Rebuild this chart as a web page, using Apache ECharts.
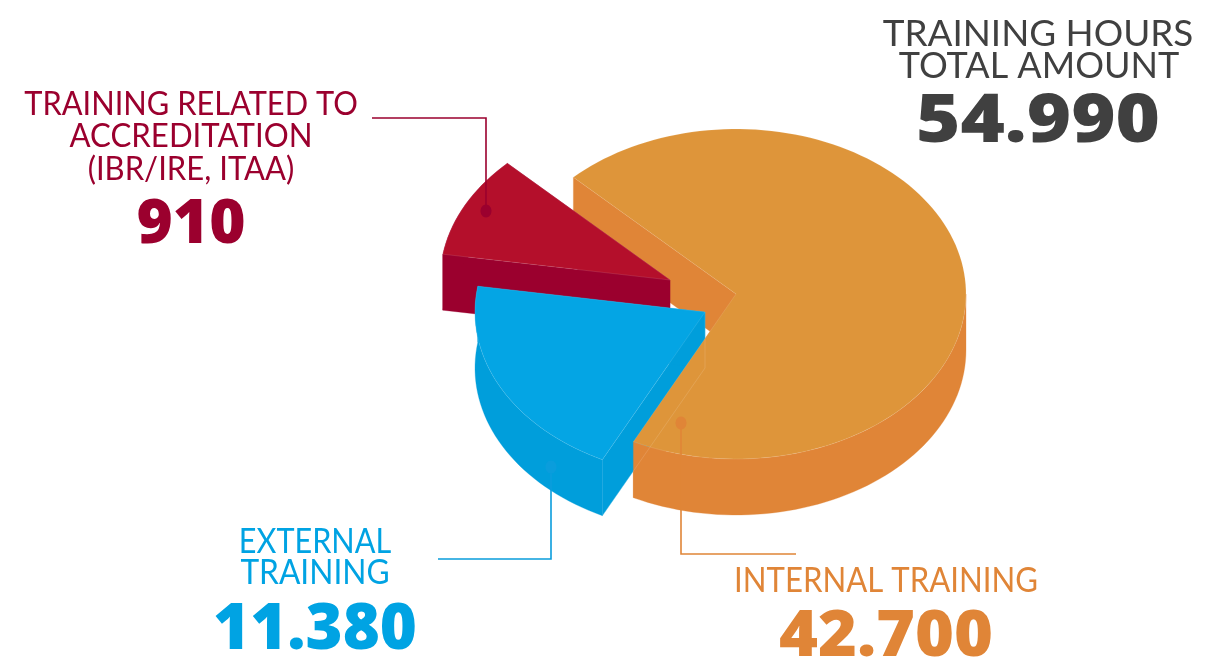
<!DOCTYPE html>
<html>
<head>
<meta charset="utf-8">
<style>
html, body { margin: 0; padding: 0; background: #fff; }
#main { width: 1219px; height: 668px; }
</style>
</head>
<body>
<div id="main"></div>
<script src="https://cdn.jsdelivr.net/npm/echarts@6/dist/echarts.min.js"></script>
<script>
// values printed on the picture
const categories = ['INTERNAL TRAINING', 'EXTERNAL TRAINING', 'TRAINING RELATED TO ACCREDITATION (IBR/IRE, ITAA)']
const hours = [42700, 11380, 910]
const totalHours = 54990
// the drawn slices are not to scale in the original, so these are read off the picture (degrees)
const drawnSweep = [251.5, 72.5, 36]
const firstSliceStart = 225

// look of the pie
const pie = { rx: 230, ry: 165, depth: 56 }
const apex = [[736, 294], [705, 312], [670, 280]]
const topColors = ['#DE953A', '#04A5E4', '#B40F2B']
const wallColors = ['#E08537', '#009EDB', '#9B002E']
const textColors = ['#E08537', '#00A3E3', '#9B002E']
const edge = 'rgba(255,255,255,0.16)'
// draw order, back to front
const zFace = [1, 7, 3]
const zTop = [9, 10, 4]
const zBand = [8, 7, 3]

const bodyFont = 'Lato'
const numberFont = '"Open Sans"'

function fmt(n) {
  return String(n).replace(/\B(?=(\d{3})+$)/g, '.')
}

function arc(c, from, sweep, dy) {
  const pts = []
  const n = Math.max(2, Math.ceil(Math.abs(sweep) / 2))
  for (let i = 0; i <= n; i++) {
    const t = ((from + (sweep * i) / n) * Math.PI) / 180
    pts.push([c[0] + pie.rx * Math.cos(t), c[1] + dy + pie.ry * Math.sin(t)])
  }
  return pts
}

function poly(points, fill, z2, stroke) {
  return {
    type: 'polygon',
    z2: z2,
    shape: { points: points },
    style: { fill: fill, stroke: stroke || fill, lineWidth: stroke ? 0.7 : 0.3 },
  }
}

function renderSlice(params, api) {
  const i = api.value(0)
  const start = api.value(1)
  const sweep = api.value(2)
  const end = start + sweep
  const c = apex[i]
  const d = pie.depth
  const children = []

  // radial faces
  ;[start, end].forEach(function (a) {
    const rim = arc(c, a, 0, 0)[0]
    children.push(poly([c, rim, [rim[0], rim[1] + d], [c[0], c[1] + d]], wallColors[i], zFace[i]))
  })

  // outer wall, only the part facing the viewer (0-180 deg)
  let from = start
  let to = end
  if (to > 360) from = Math.max(from, 360)
  else to = Math.min(to, 180)
  if (to > from) {
    const rimTop = arc(c, from, to - from, 0)
    const rimBottom = arc(c, from, to - from, d).reverse()
    children.push(poly(rimTop.concat(rimBottom), wallColors[i], zBand[i]))
  }

  // top surface
  children.push(poly([c].concat(arc(c, start, sweep, 0)), topColors[i], zTop[i], edge))

  // faint hidden edge of the external slice over the internal one
  if (i === 1) {
    const rim = arc(c, start, 0, 0)[0]
    children.push({
      type: 'polyline',
      z2: 9.5,
      shape: { points: [[c[0], c[1]], [c[0], c[1] + d], [rim[0], rim[1] + d]] },
      style: { stroke: edge, fill: null, lineWidth: 0.8 },
    })
  }
  return { type: 'group', children: children }
}

function sliceData() {
  let a = firstSliceStart
  return drawnSweep.map(function (s, i) {
    const row = [i, a, s, hours[i]]
    a += s
    return { name: categories[i], value: row }
  })
}

function text(x, y, str, font, size, weight, color, sx) {
  return {
    type: 'text',
    x: x,
    y: y,
    scaleX: sx,
    z: 20,
    silent: true,
    style: {
      text: str,
      fontFamily: font,
      fontSize: size,
      fontWeight: weight,
      fill: color,
      textAlign: 'center',
      textVerticalAlign: 'middle',
    },
  }
}

function leader(points, color, dot) {
  return [
    {
      type: 'polyline',
      z: 15,
      silent: true,
      shape: { points: points },
      style: { stroke: color, fill: null, lineWidth: 1.6 },
    },
    {
      type: 'ellipse',
      z: 15,
      silent: true,
      shape: { cx: dot[0], cy: dot[1], rx: 5.5, ry: 6.5 },
      style: { fill: color },
    },
  ]
}

const labels = [
  text(1038, 34, 'TRAINING HOURS', bodyFont, 36, 400, '#404040', 1.023),
  text(1039, 66, 'TOTAL AMOUNT', bodyFont, 36, 400, '#404040', 1),
  text(1038, 123, fmt(totalHours), numberFont, 68, 800, '#404040', 1.115),

  text(191, 105, 'TRAINING RELATED TO', bodyFont, 32, 400, textColors[2], 0.962),
  text(191, 137, 'ACCREDITATION', bodyFont, 32, 400, textColors[2], 0.975),
  text(191, 170, '(IBR/IRE, ITAA)', bodyFont, 32, 400, textColors[2], 0.97),
  text(191, 225, fmt(hours[2]), numberFont, 62, 800, textColors[2], 1),

  text(315, 542, 'EXTERNAL', bodyFont, 35, 400, textColors[1], 0.875),
  text(315, 573, 'TRAINING', bodyFont, 35, 400, textColors[1], 0.905),
  text(315, 631, fmt(hours[1]), numberFont, 64, 800, textColors[1], 0.99),

  text(886, 581, 'INTERNAL TRAINING', bodyFont, 35, 400, textColors[0], 0.89),
  text(886, 638, fmt(hours[0]), numberFont, 64, 800, textColors[0], 1.04),
]

const lines = [].concat(
  leader([[372, 118], [486, 118], [486, 211]], '#9B002E', [486, 211]),
  leader([[438, 559], [551, 559], [551, 467]], '#0A9DDC', [551, 467]),
  leader([[681, 423], [681, 554], [796, 554]], '#E08537', [681, 423])
)

const myChart = echarts.init(document.getElementById('main'), null, { renderer: 'canvas' })
myChart.setOption({
  animation: false,
  backgroundColor: '#fff',
  graphic: { elements: lines.concat(labels) },
  series: [
    {
      type: 'custom',
      coordinateSystem: 'none',
      silent: true,
      renderItem: renderSlice,
      data: sliceData(),
      encode: { value: 3, itemName: 0 },
    },
  ],
})
</script>
</body>
</html>
